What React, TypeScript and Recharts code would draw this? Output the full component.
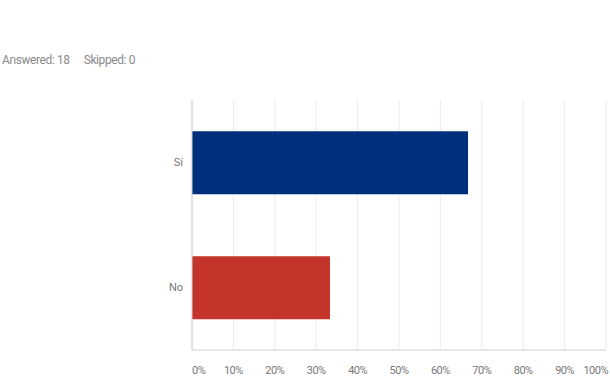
import React from 'react';
import { BarChart, Bar, XAxis, YAxis, CartesianGrid, Cell } from 'recharts';

const answers = ['Sí', 'No'];
const shares = [66.67, 33.33];
const barColors = ['#002f7c', '#c5342b'];
const xTicks = [0, 10, 20, 30, 40, 50, 60, 70, 80, 90, 100];

const rows = answers.map((answer, i) => ({ answer, share: shares[i] }));

const font = 'Roboto, "Noto Sans", sans-serif';

// keep the first and last percent labels inside the plot edges
const PercentTick = (props: any) => {
  const { x, y, payload } = props;
  const v = payload.value as number;
  let anchor: 'start' | 'middle' | 'end' = 'middle';
  let dx = 0;
  if (v === 0) anchor = 'start';
  if (v === 100) {
    anchor = 'end';
    dx = 2;
  }
  return (
    <text x={x + dx} y={y} dy="0.71em" textAnchor={anchor} fill="#777" fontSize={11} fontFamily={font} letterSpacing={-0.5}>
      {`${v}%`}
    </text>
  );
};

export default function App() {
  return (
    <div style={{ position: 'absolute', left: 0, top: 0, width: 610, height: 378, background: '#fff', fontFamily: font }}>
      <div style={{ position: 'absolute', left: 2, top: 53, fontSize: 12, color: '#8a8a8a', letterSpacing: -0.4 }}>
        Answered: 18<span style={{ marginLeft: 14 }}>Skipped: 0</span>
      </div>
      <BarChart
        width={610}
        height={378}
        data={rows}
        layout="vertical"
        margin={{ top: 100, right: 4, bottom: 8, left: 152 }}
        barCategoryGap="25%"
      >
        <CartesianGrid horizontal={false} stroke="#ececec" />
        <XAxis
          type="number"
          domain={[0, 100]}
          ticks={xTicks}
          tickLine={false}
          axisLine={{ stroke: '#d0d0d0' }}
          tickSize={0}
          tickMargin={16}
          height={20}
          tick={<PercentTick />}
          interval={0}
        />
        <YAxis
          type="category"
          dataKey="answer"
          width={40}
          tickLine={false}
          axisLine={{ stroke: '#d0d0d0' }}
          tickMargin={3}
          tick={{ fill: '#777', fontSize: 11, fontFamily: font }}
        />
        <Bar dataKey="share" isAnimationActive={false}>
          {rows.map((r, i) => (
            <Cell key={r.answer} fill={barColors[i]} />
          ))}
        </Bar>
      </BarChart>
    </div>
  );
}
